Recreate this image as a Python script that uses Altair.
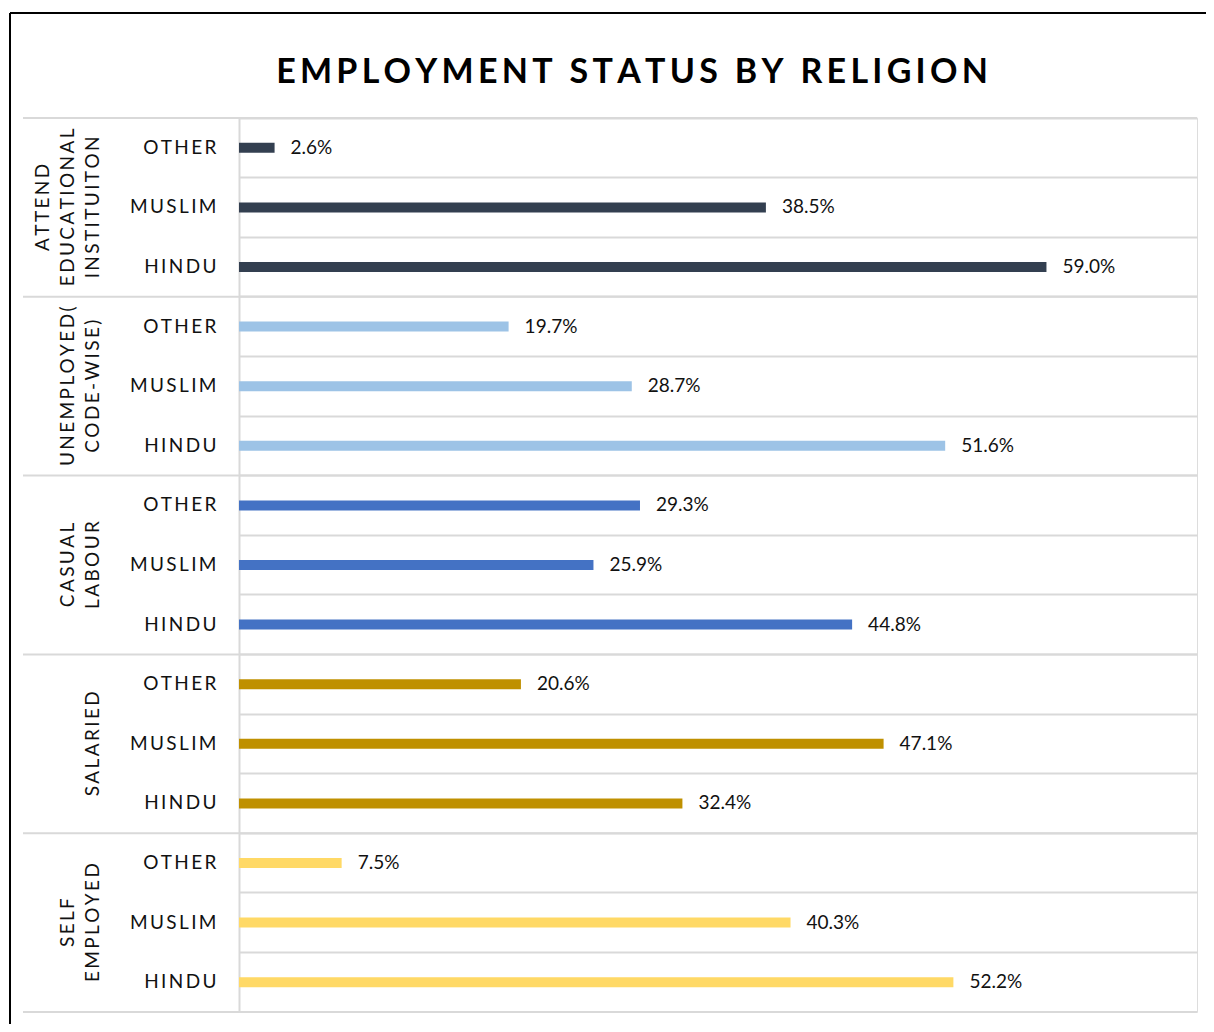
import altair as alt
import pandas as pd

# ---- data ----
title = "EMPLOYMENT STATUS BY RELIGION"
groups = ["ATTEND EDUCATIONAL INSTITUITON", "UNEMPLOYED( CODE-WISE)", "CASUAL LABOUR", "SALARIED", "SELF EMPLOYED"]
group_lines = [["ATTEND", "EDUCATIONAL", "INSTITUITON"], ["UNEMPLOYED(", "CODE-WISE)"], ["CASUAL", "LABOUR"], ["SALARIED"], ["SELF", "EMPLOYED"]]
religions = ["OTHER", "MUSLIM", "HINDU"]
attend_edu = [2.6, 38.5, 59.0]
unemployed = [19.7, 28.7, 51.6]
casual_labour = [29.3, 25.9, 44.8]
salaried = [20.6, 47.1, 32.4]
self_employed = [7.5, 40.3, 52.2]
colors = ["#333F50", "#9DC3E6", "#4472C4", "#BF9000", "#FFD966"]

series = [attend_edu, unemployed, casual_labour, salaried, self_employed]

SP = "\u2009"


def spaced(s, sp=SP):
    return sp.join(list(s))


rows = []
for g, vals in zip(groups, series):
    for r, v in zip(religions, vals):
        rows.append({"key": g + "~" + spaced(r), "group": g, "value": v})
df = pd.DataFrame(rows)
keys = list(df["key"])

gdf = pd.DataFrame({
    "group": groups,
    "first": [g + "~" + spaced(religions[0]) for g in groups],
})
line_rows = []
for g, lines in zip(groups, group_lines):
    n = len(lines)
    for i, w in enumerate(lines):
        line_rows.append({"mid": g + "~" + spaced(religions[1]), "k": n - 1 - i, "txt": spaced(w)})
ldf = pd.DataFrame(line_rows)

last_df = pd.DataFrame({"last": [keys[-1]]})
one = pd.DataFrame({"a": [0]})
tdf = pd.DataFrame({"t": ["\u2002".join(spaced(w, "\u200a\u200a") for w in title.split(" "))]})

yscale = alt.Scale(domain=keys, paddingInner=0, paddingOuter=0)
xscale = alt.Scale(domain=[0, 70])
cscale = alt.Scale(domain=groups, range=colors)

GRID = "#D9D9D9"
FONT = "Lato"
TXT = "#111111"

bars = alt.Chart(df).mark_bar(size=10).encode(
    y=alt.Y("key:N", scale=yscale, title=None,
            axis=alt.Axis(labelExpr="split(datum.label, '~')[1]", ticks=False,
                          domain=True, domainColor=GRID, domainWidth=2,
                          grid=True, gridColor=GRID, gridWidth=2, bandPosition=0,
                          labelPadding=23, labelFont=FONT, labelFontSize=19,
                          labelColor=TXT)),
    x=alt.X("value:Q", scale=xscale, axis=None),
    color=alt.Color("group:N", scale=cscale, legend=None),
)

labels = alt.Chart(df).transform_calculate(
    lab="format(datum.value, '.1f') + '%'"
).mark_text(align="left", baseline="middle", dx=16, font=FONT, fontSize=19, color=TXT).encode(
    y=alt.Y("key:N", scale=yscale),
    x=alt.X("value:Q", scale=xscale),
    text="lab:N",
)

glayers = []
for k in range(3):
    glayers.append(
        alt.Chart(ldf).transform_filter(alt.datum.k == k).mark_text(
            angle=270, align="center", baseline="middle",
            font=FONT, fontSize=19, color=TXT
        ).encode(
            y=alt.Y("mid:N", scale=yscale),
            x=alt.value(-146 - 25 * k),
            text="txt:N",
        )
    )

grules = alt.Chart(gdf).mark_rule(color=GRID, strokeWidth=2, clip=False).encode(
    y=alt.Y("first:N", scale=yscale, bandPosition=0),
    x=alt.value(-216), x2=alt.value(958),
)
brule = alt.Chart(last_df).mark_rule(color=GRID, strokeWidth=2, clip=False).encode(
    y=alt.Y("last:N", scale=yscale, bandPosition=1),
    x=alt.value(-216), x2=alt.value(958),
)

border_top = alt.Chart(one).mark_rule(color="black", strokeWidth=2, clip=False).encode(
    x=alt.value(-229), x2=alt.value(980), y=alt.value(-105))
border_left = alt.Chart(one).mark_rule(color="black", strokeWidth=2, clip=False).encode(
    x=alt.value(-229), y=alt.value(-105), y2=alt.value(920))

title_mark = alt.Chart(tdf).mark_text(
    font=FONT, fontSize=34, fontWeight="bold", color="black", align="center", baseline="middle"
).encode(x=alt.value(393), y=alt.value(-45), text="t:N")

chart = alt.layer(grules, brule, bars, labels, *glayers, border_top, border_left, title_mark).properties(
    width=958, height=894,
    autosize=alt.AutoSizeParams(type="none"),
    padding={"left": 231, "top": 110, "right": 9, "bottom": 12},
).configure_view(stroke=None).configure(background="white")

chart.save("out.html", embed_options={"renderer": "svg", "actions": False})
